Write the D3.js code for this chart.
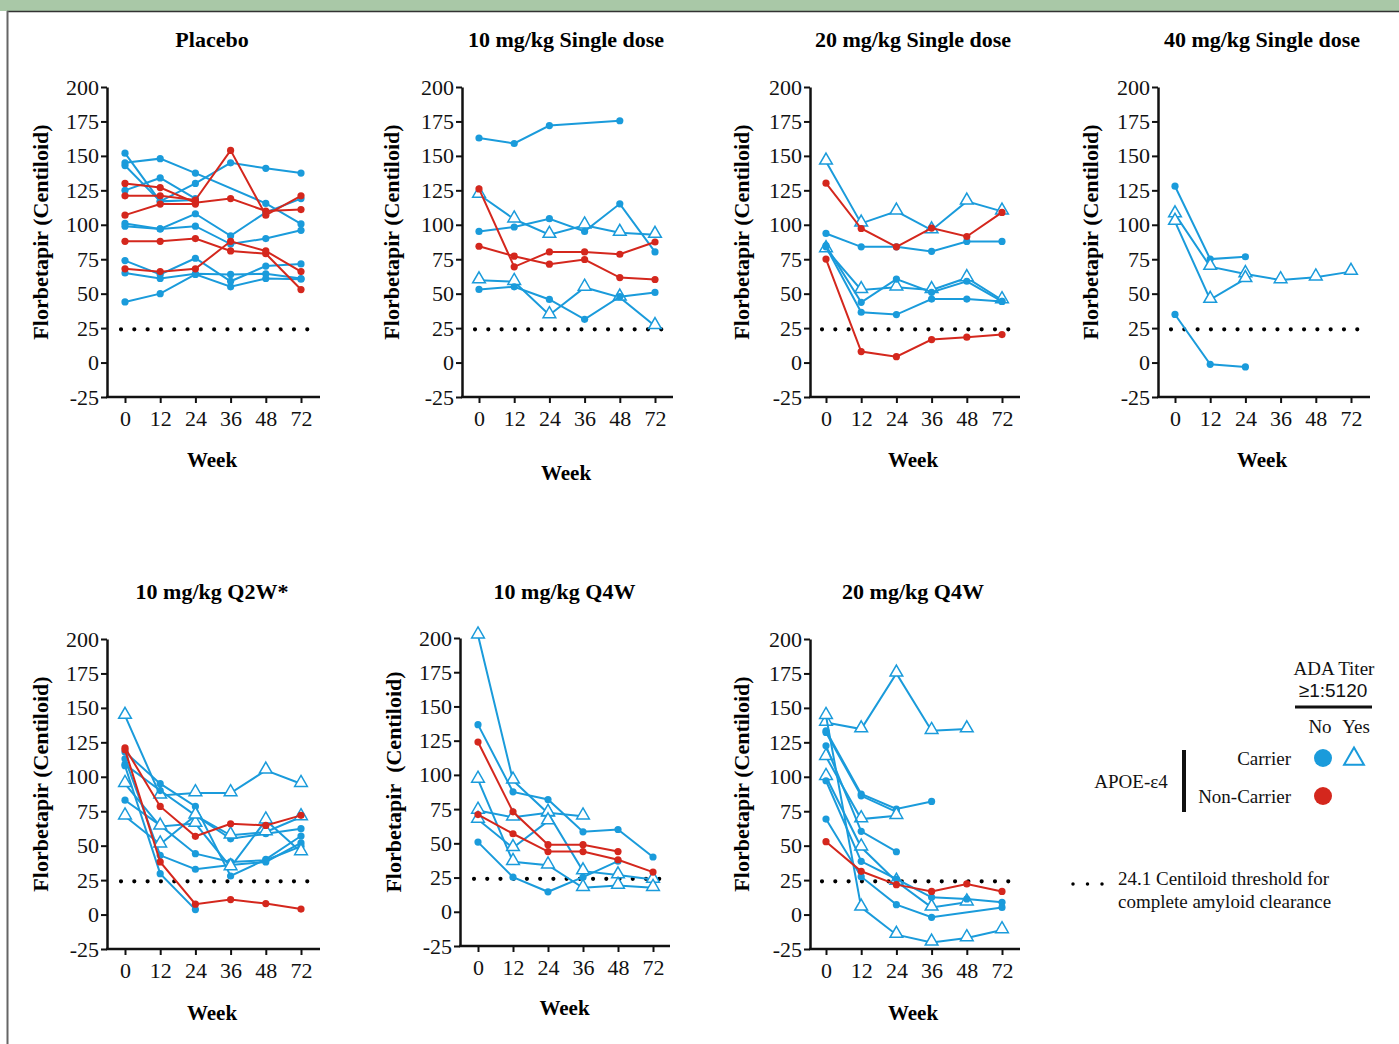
<!DOCTYPE html>
<html lang="en">
<head>
<meta charset="UTF-8">
<title>Florbetapir by dose group</title>
<script src="https://cdnjs.cloudflare.com/ajax/libs/d3/7.8.5/d3.min.js"></script>
<style>
  body { margin: 0; background: #fff; }
  svg { display: block; font-family: "Liberation Serif", "Times New Roman", serif; }
  .tick text { font-size: 22px; fill: #111; font-family: "Liberation Serif", "Times New Roman", serif; }
  .tick line { stroke: #111; stroke-width: 2; }
</style>
</head>
<body>
<svg width="1399" height="1044"></svg>
<script>
// categories and axis ticks
var weeks = ["0", "12", "24", "36", "48", "72"];
var yTicks = [-25, 0, 25, 50, 75, 100, 125, 150, 175, 200];
var threshold = 24.1;

// one entry per patient: group (C = carrier, T = carrier with ADA >= 1:5120, N = non-carrier), values by week
var placebo = [
    { g: "C", v: [152, 117, 118] },
    { g: "C", v: [145, 148, 137.5, null, 115.5, 100.6] },
    { g: "C", v: [143, 117, 130, 145, 141, 137.5] },
    { g: "C", v: [125, 134, 119] },
    { g: "C", v: [101, 97, 108, 92, 109, 119] },
    { g: "C", v: [99, 97, 99, 86, 90, 96] },
    { g: "C", v: [74, 64, 75.7, 59, 70, 71.6] },
    { g: "C", v: [65, 61, 64.4, 64, 64.4, 61] },
    { g: "C", v: [44, 50, 64, 55, 61, 60.5] },
    { g: "N", v: [130, 127, 116, 119, 110, 111] },
    { g: "N", v: [121, 121, 118, 154, 107, 121] },
    { g: "N", v: [107, 115, 115] },
    { g: "N", v: [88, 88, 90, 81, 79, 53] },
    { g: "N", v: [68, 66, 68, 88, 81, 66] }
];
var single10 = [
    { g: "C", v: [163, 159, 172, null, 175.5] },
    { g: "T", v: [122, 104, 92.8, 99.6, 94.3, 92.8] },
    { g: "C", v: [95.2, 98.4, 104.4, 95.2, 115.2, 80.3] },
    { g: "T", v: [59.8, 58.6, 34.5, 54.5, 47.3, 26.6] },
    { g: "C", v: [53.1, 55, 45.8, 31.4, 47.8, 50.9] },
    { g: "N", v: [126, 69.5, 80.3, 80.3, 78.6, 87.5] },
    { g: "N", v: [84.4, 77.2, 71.4, 74.8, 61.7, 60.3] }
];
var single20 = [
    { g: "T", v: [146, 101, 109.7, 96.1, 117, 109.7] },
    { g: "C", v: [93.7, 84, 84, 80.7, 87.9, 87.9] },
    { g: "T", v: [82.4, 52.7, 54.6, 52.7, 61.4, 45.4] },
    { g: "C", v: [84.8, 43.7, 60.6, 51, 59, 44.4] },
    { g: "C", v: [84, 36.5, 34.8, 46.1, 46.1, 44.4] },
    { g: "N", v: [130.2, 97.3, 84, 97.6, 91.5, 109] },
    { g: "N", v: [75.1, 8, 4.3, 16.7, 18.4, 20.3] }
];
var single40 = [
    { g: "C", v: [128, 75.1, 76.8] },
    { g: "T", v: [107.7, 69.6, 64.3, 59.9, 61.9, 66] },
    { g: "T", v: [102.3, 45.7, 60.7] },
    { g: "C", v: [34.9, -1.3, -3.2] }
];
var q2w10 = [
    { g: "T", v: [144.4, 86.5, 88.2, 88.2, 104.6, 94.9] },
    { g: "C", v: [118, 95, 78.5, 28, 40, 57] },
    { g: "C", v: [109, 90, 72, 55, 58.7, 62.3] },
    { g: "C", v: [113, 43, 32.9, 36, 38.2, 52] },
    { g: "C", v: [108, 29.7, 3.6] },
    { g: "C", v: [83, 64.7, 44.2, 38.2, 39.4, 49.5] },
    { g: "T", v: [94.9, 64, 66, 34.5, 68.4, 45.4] },
    { g: "T", v: [71.3, 51, 72, 57.5, 59.9, 70.8] },
    { g: "N", v: [121, 78.5, 56.8, 65.9, 64.7, 72] },
    { g: "N", v: [119.6, 38.2, 7.5, 10.9, 8, 4] }
];
var q4w10 = [
    { g: "T", v: [202, 96, 72, 29.7, 26.8, 23.6] },
    { g: "C", v: [136.7, 87.6, 82, 58.4, 60.1, 40] },
    { g: "T", v: [96.6, 36.5, 34, 17.5, 19.2, 17.5] },
    { g: "T", v: [74, 69, 72.3, 69.8] },
    { g: "T", v: [67.4, 46.7, 66.2] },
    { g: "C", v: [50.9, 25.3, 14.6, 25.3, 37] },
    { g: "N", v: [124, 73, 49, 49, 44] },
    { g: "N", v: [71, 57, 44, 44, 38, 29] }
];
var q4w20 = [
    { g: "T", v: [139.4, 134.6, 175, 133.4, 134.6] },
    { g: "C", v: [133.4, 87.5, 76.6, 82.1] },
    { g: "C", v: [132.2, 86.2, 74.5] },
    { g: "T", v: [114.5, 69.3, 71.7] },
    { g: "C", v: [122.5, 60.4, 45.6] },
    { g: "T", v: [144.3, 5.2, -14.6, -20.2, -17, -11.2] },
    { g: "T", v: [100, 48.8, 24, 5.2, 8.9] },
    { g: "C", v: [97.1, 38.6, 25.8, 12.5, 11.3, 8.9] },
    { g: "C", v: [69.3, 27.5, 7.2, -2, null, 5.2] },
    { g: "N", v: [52.9, 31.4, 21.7, 16.8, 22.2, 16.8] }
];

var BLUE = "#1a9bdb";
var RED = "#d4271d";

// panel layout: axis x, plot top/bottom, first/last tick x, axis end, title/label positions
var panels = [
    { title: "Placebo", data: placebo, ax: 107, top: 87, bot: 397, x0: 125, x1: 301, xr: 320, ty: 47, wy: 467, ly: 40 },
    { title: "10 mg/kg Single dose", data: single10, ax: 462, top: 87, bot: 397, x0: 479, x1: 655, xr: 673, ty: 47, wy: 480, ly: 391 },
    { title: "20 mg/kg Single dose", data: single20, ax: 810, top: 87, bot: 397, x0: 826, x1: 1002, xr: 1020, ty: 47, wy: 467, ly: 741 },
    { title: "40 mg/kg Single dose", data: single40, ax: 1158, top: 87, bot: 397, x0: 1175, x1: 1351, xr: 1370, ty: 47, wy: 467, ly: 1090 },
    { title: "10 mg/kg Q2W*", data: q2w10, ax: 107, top: 639, bot: 949, x0: 125, x1: 301, xr: 320, ty: 599, wy: 1020, ly: 40 },
    { title: "10 mg/kg Q4W", data: q4w10, ax: 460, top: 638, bot: 946, x0: 478, x1: 653, xr: 670, ty: 599, wy: 1015, ly: 393, yl: "Florbetapir\u00a0\u00a0(Centiloid)" },
    { title: "20 mg/kg Q4W", data: q4w20, ax: 810, top: 639, bot: 949, x0: 826, x1: 1002, xr: 1020, ty: 599, wy: 1020, ly: 741 }
];

var svg = d3.select("svg");

// page frame
svg.append("rect").attr("x", 0).attr("y", 0).attr("width", 1399).attr("height", 11).attr("fill", "#a9c8a7");
svg.append("line").attr("x1", 7).attr("x2", 1399).attr("y1", 11.5).attr("y2", 11.5).attr("stroke", "#333").attr("stroke-width", 1.5);
svg.append("line").attr("x1", 7.5).attr("x2", 7.5).attr("y1", 11).attr("y2", 1044).attr("stroke", "#666").attr("stroke-width", 2);

var tri = d3.symbol().type(d3.symbolTriangle).size(70);

panels.forEach(p => {
    var x = d3.scalePoint().domain(weeks).range([p.x0, p.x1]);
    var y = d3.scaleLinear().domain([-25, 200]).range([p.bot, p.top]);
    var g = svg.append("g");
    var cx = (p.x0 + p.x1) / 2 - 1;

    g.append("text").attr("x", cx).attr("y", p.ty).attr("text-anchor", "middle")
        .attr("font-size", 22).attr("font-weight", "bold").text(p.title);

    // y axis
    var ya = g.append("g").attr("transform", "translate(" + p.ax + ",0)")
        .call(d3.axisLeft(y).tickValues(yTicks).tickFormat(d => String(d))
            .tickSize(6).tickSizeOuter(0).tickPadding(2));
    ya.attr("font-family", null);
    ya.select(".domain").attr("stroke", "#111").attr("stroke-width", 2.5);

    // x axis
    var xa = g.append("g").attr("transform", "translate(0," + p.bot + ")")
        .call(d3.axisBottom(x).tickSize(6).tickSizeOuter(0).tickPadding(7));
    xa.attr("font-family", null);
    xa.select(".domain").remove();
    g.append("line").attr("x1", p.ax - 1).attr("x2", p.xr).attr("y1", p.bot).attr("y2", p.bot)
        .attr("stroke", "#111").attr("stroke-width", 2.5);

    g.append("text").attr("x", cx).attr("y", p.wy).attr("text-anchor", "middle")
        .attr("font-size", 21).attr("font-weight", "bold").text("Week");

    g.append("text").attr("transform", "translate(" + p.ly + "," + ((p.top + p.bot) / 2 - 10) + ") rotate(-90)")
        .attr("text-anchor", "middle").attr("dy", "0.35em")
        .attr("font-size", 22).attr("font-weight", "bold").text(p.yl || "Florbetapir (Centiloid)");

    // threshold dots
    var step = (p.x1 - p.x0) / 10 * 0.756;
    g.append("line").attr("x1", p.x0 - 4).attr("x2", p.x1 + 8).attr("y1", y(threshold)).attr("y2", y(threshold))
        .attr("stroke", "#000").attr("stroke-width", 4.2).attr("stroke-linecap", "round")
        .attr("stroke-dasharray", "0 " + step);

    var line = d3.line().x(d => x(d.w)).y(d => y(d.v));

    p.data.forEach(s => {
        var pts = s.v.map((v, i) => ({ w: weeks[i], v: v })).filter(d => d.v != null);
        var col = s.g == "N" ? RED : BLUE;
        g.append("path").datum(pts).attr("d", line).attr("fill", "none")
            .attr("stroke", col).attr("stroke-width", 2);
        if (s.g == "T") {
            g.selectAll(null).data(pts).enter().append("path")
                .attr("d", tri).attr("transform", d => "translate(" + x(d.w) + "," + (y(d.v) - 1) + ")")
                .attr("fill", "#fff").attr("stroke", col).attr("stroke-width", 1.5);
        } else {
            g.selectAll(null).data(pts).enter().append("circle")
                .attr("cx", d => x(d.w)).attr("cy", d => y(d.v)).attr("r", 3.6).attr("fill", col);
        }
    });
});

// legend
var lg = svg.append("g").attr("font-size", 19).attr("fill", "#111");
lg.append("text").attr("x", 1334).attr("y", 675).attr("text-anchor", "middle").text("ADA Titer");
lg.append("text").attr("x", 1333).attr("y", 697).attr("text-anchor", "middle")
    .attr("font-family", "Liberation Sans, Arial, sans-serif").attr("font-size", 19).text("\u22651:5120");
lg.append("line").attr("x1", 1295).attr("x2", 1372).attr("y1", 707).attr("y2", 707).attr("stroke", "#111").attr("stroke-width", 3);
lg.append("text").attr("x", 1320).attr("y", 733).attr("text-anchor", "middle").text("No");
lg.append("text").attr("x", 1356).attr("y", 733).attr("text-anchor", "middle").text("Yes");
lg.append("text").attr("x", 1291).attr("y", 765).attr("text-anchor", "end").text("Carrier");
lg.append("text").attr("x", 1291).attr("y", 803).attr("text-anchor", "end").text("Non-Carrier");
lg.append("text").attr("x", 1131).attr("y", 788).attr("text-anchor", "middle").text("APOE-\u03b54");
lg.append("line").attr("x1", 1184).attr("x2", 1184).attr("y1", 750).attr("y2", 812).attr("stroke", "#111").attr("stroke-width", 4);
lg.append("circle").attr("cx", 1323).attr("cy", 758).attr("r", 9).attr("fill", BLUE);
lg.append("path").attr("d", d3.symbol().type(d3.symbolTriangle).size(170))
    .attr("transform", "translate(1354,759)").attr("fill", "#fff").attr("stroke", BLUE).attr("stroke-width", 2);
lg.append("circle").attr("cx", 1323).attr("cy", 796).attr("r", 9).attr("fill", RED);
lg.append("line").attr("x1", 1073).attr("x2", 1104).attr("y1", 884).attr("y2", 884)
    .attr("stroke", "#000").attr("stroke-width", 3.5).attr("stroke-linecap", "round").attr("stroke-dasharray", "0 14.5");
lg.append("text").attr("x", 1118).attr("y", 885).text("24.1 Centiloid threshold for");
lg.append("text").attr("x", 1118).attr("y", 908).text("complete amyloid clearance");
</script>
</body>
</html>
